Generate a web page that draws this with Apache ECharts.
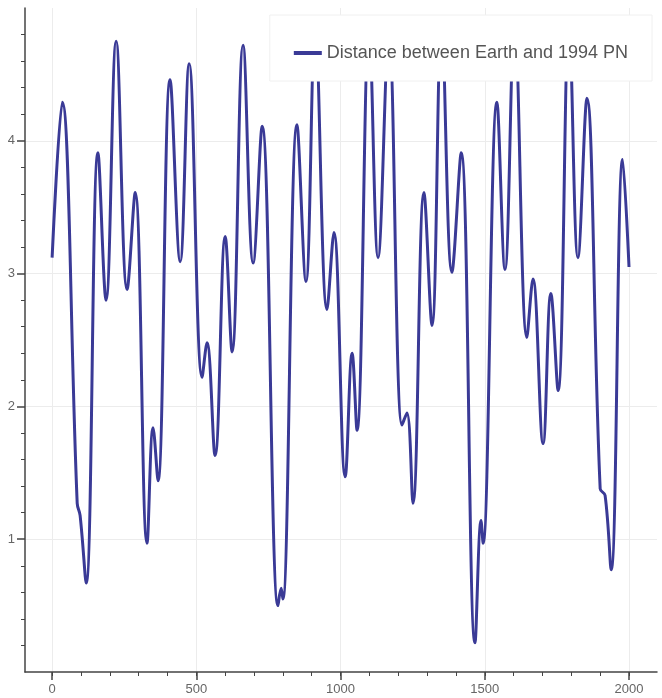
<!DOCTYPE html>
<html>
<head>
<meta charset="utf-8">
<script src="https://cdn.jsdelivr.net/npm/echarts@6/dist/echarts.min.js"></script>
<style>
  html, body { margin: 0; padding: 0; background: #fff; }
  #chart { width: 662px; height: 698px; }
</style>
</head>
<body>
<div id="chart"></div>
<script>
// x = day, y = distance
// peaks under the legend box are estimated from their width where they meet it
const days = [
    0, 35, 87, 97, 118, 159, 187, 222, 260, 288, 329, 350, 367,
    409, 444, 475, 520, 537, 565, 600, 624, 662, 697, 728, 783, 794, 800,
    849, 880, 912, 953, 977, 1016, 1040, 1057, 1099, 1130, 1167,
    1213, 1230, 1251, 1289, 1317, 1350, 1386, 1418, 1466, 1487, 1494,
    1542, 1570, 1603, 1646, 1667, 1702, 1729, 1754, 1792, 1823,
    1854, 1900, 1917, 1938, 1978, 2000
];
const distance = [
    3.12, 4.29, 1.27, 1.18, 0.67, 3.91, 2.80, 4.75, 2.88, 3.61, 0.97, 1.84, 1.44,
    4.46, 3.09, 4.58, 2.22, 2.48, 1.63, 3.28, 2.41, 4.72, 3.08, 4.11, 0.50, 0.63, 0.55,
    4.12, 2.94, 4.85, 2.73, 3.31, 1.47, 2.40, 1.82, 4.85, 3.12, 4.80,
    1.86, 1.95, 1.27, 3.61, 2.61, 4.88, 3.01, 3.91, 0.22, 1.14, 0.97,
    4.29, 3.03, 4.88, 2.52, 2.96, 1.72, 2.85, 2.12, 4.88, 3.12,
    4.32, 1.38, 1.33, 0.77, 3.86, 3.05
];
const xTicks = [0, 500, 1000, 1500, 2000];
const xMinorTicks = [0, 100, 200, 300, 400, 500, 600, 700, 800, 900, 1000,
    1100, 1200, 1300, 1400, 1500, 1600, 1700, 1800, 1900, 2000];
const yTicks = [1, 2, 3, 4];
const seriesName = 'Distance between Earth and 1994 PN';

const chart = echarts.init(document.getElementById('chart'));
const font = 'Liberation Sans, Arial, sans-serif';

chart.setOption({
    animation: false,
    grid: { left: 25, right: 5, top: 8, bottom: 26 },
    legend: {
        right: 10,
        top: 15,
        padding: [29, 24, 19, 24],
        borderColor: '#f0f0f0',
        borderWidth: 1,
        backgroundColor: '#fff',
        icon: 'rect',
        itemWidth: 28,
        itemHeight: 4,
        textStyle: { color: '#555', fontSize: 18, fontFamily: font },
        data: [seriesName]
    },
    xAxis: [{
        type: 'value',
        position: 'bottom',
        min: -94,
        max: 2097,
        axisLine: { onZero: false, lineStyle: { color: '#444', width: 1.5 } },
        axisTick: { customValues: xTicks, length: 8, lineStyle: { color: '#444', width: 1.5 } },
        axisLabel: {
            customValues: xTicks, color: '#666', fontSize: 13, fontFamily: font, margin: 11,
            formatter: v => String(v)
        },
        splitLine: { show: true, lineStyle: { color: '#ececec' } }
    }, {
        type: 'value',
        position: 'bottom',
        min: -94,
        max: 2097,
        axisLine: { show: false, onZero: false },
        axisTick: { customValues: xMinorTicks, length: 4, lineStyle: { color: '#444' } },
        axisLabel: { show: false },
        splitLine: { show: false }
    }],
    yAxis: {
        type: 'value',
        min: 0,
        max: 5,
        interval: 1,
        axisLine: { show: true, onZero: false, lineStyle: { color: '#444', width: 1.5 } },
        axisTick: { show: true, customValues: yTicks, length: 8, lineStyle: { color: '#444', width: 1.5 } },
        minorTick: { show: true, splitNumber: 5, length: 4, lineStyle: { color: '#444' } },
        axisLabel: { customValues: yTicks, color: '#666', fontSize: 13, fontFamily: font, margin: 10 },
        splitLine: { show: true, lineStyle: { color: '#ececec' } }
    },
    series: [{
        name: seriesName,
        type: 'line',
        xAxisIndex: 0,
        data: days.map((d, i) => [d, distance[i]]),
        showSymbol: false,
        symbol: 'none',
        smooth: 0.4,
        lineStyle: { color: '#3a3a96', width: 3 },
        itemStyle: { color: '#3a3a96' }
    }]
});
</script>
</body>
</html>
